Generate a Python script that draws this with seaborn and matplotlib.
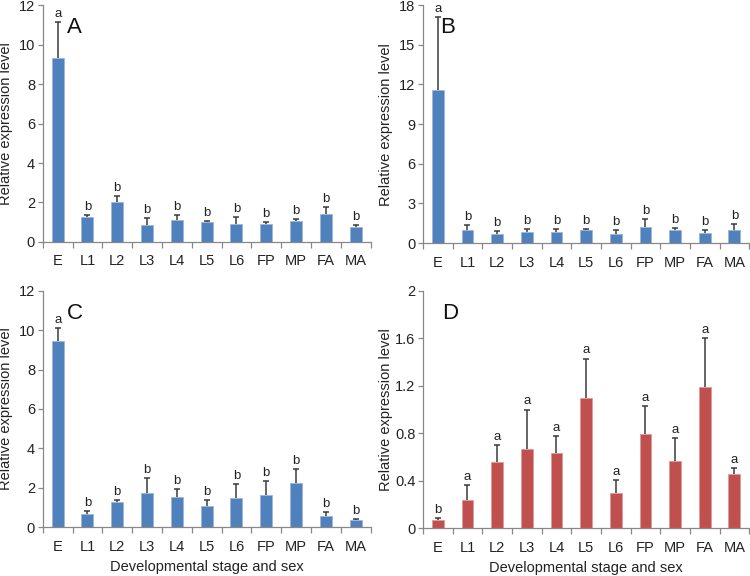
import pandas as pd
import seaborn as sns
import matplotlib.pyplot as plt
from matplotlib.ticker import MultipleLocator, FixedLocator

stages = ['E', 'L1', 'L2', 'L3', 'L4', 'L5', 'L6', 'FP', 'MP', 'FA', 'MA']

# mean values and top of error bar
a_mean = [9.3, 1.25, 2.02, 0.86, 1.12, 1.0, 0.9, 0.92, 1.05, 1.4, 0.78]
a_top = [11.16, 1.37, 2.34, 1.2, 1.37, 1.08, 1.27, 0.99, 1.16, 1.76, 0.84]
a_sig = ['a', 'b', 'b', 'b', 'b', 'b', 'b', 'b', 'b', 'b', 'b']

b_mean = [11.6, 1.01, 0.66, 0.81, 0.86, 0.96, 0.71, 1.22, 0.96, 0.78, 0.96]
b_top = [17.1, 1.37, 0.89, 1.06, 1.06, 1.04, 1.01, 1.8, 1.11, 0.96, 1.44]
b_sig = ['a', 'b', 'b', 'b', 'b', 'b', 'b', 'b', 'b', 'b', 'b']

c_mean = [9.44, 0.64, 1.25, 1.73, 1.53, 1.05, 1.47, 1.64, 2.24, 0.58, 0.34]
c_top = [10.1, 0.83, 1.37, 2.47, 1.93, 1.39, 2.17, 2.32, 2.95, 0.76, 0.41]
c_sig = ['a', 'b', 'b', 'b', 'b', 'b', 'b', 'b', 'b', 'b', 'b']

d_mean = [0.07, 0.24, 0.56, 0.67, 0.63, 1.1, 0.3, 0.79, 0.57, 1.19, 0.46]
d_top = [0.085, 0.36, 0.7, 1.0, 0.78, 1.43, 0.405, 1.03, 0.76, 1.6, 0.51]
d_sig = ['b', 'a', 'a', 'a', 'a', 'a', 'a', 'a', 'a', 'a', 'a']

blue = '#4F81BD'
red = '#C0504D'

sns.set_style('ticks')
plt.rcParams['font.family'] = ['Liberation Sans', 'DejaVu Sans']

fig = plt.figure(figsize=(7.5, 5.76), dpi=100)

panels = [
    ('A', a_mean, a_top, a_sig, blue, 12, 2, [0.057, 0.580, 0.437, 0.411], False),
    ('B', b_mean, b_top, b_sig, blue, 18, 3, [0.564, 0.578, 0.435, 0.413], False),
    ('C', c_mean, c_top, c_sig, blue, 12, 2, [0.057, 0.085, 0.437, 0.410], True),
    ('D', d_mean, d_top, d_sig, red, 2, 0.4, [0.564, 0.083, 0.435, 0.412], True),
]

for letter, mean, top, sig, col, ymax, step, pos, show_xlabel in panels:
    ax = fig.add_axes(pos)
    df = pd.DataFrame({'stage': stages, 'value': mean, 'top': top})
    sns.barplot(data=df, x='stage', y='value', color=col, width=0.4,
                saturation=1, ax=ax, edgecolor='#9DB5D9' if col == blue else '#E09A98',
                linewidth=0.6)
    # upper error bars only (line from bar top + cap)
    xs = range(len(stages))
    ax.vlines(xs, df['value'], df['top'], color='#3a3a3a', linewidth=1.1, zorder=3)
    ax.scatter(xs, df['top'], marker='_', s=22, color='#3a3a3a', linewidths=1.1, zorder=3)
    for i, (t, s) in enumerate(zip(df['top'], sig)):
        ax.annotate(s, (i, t), xytext=(0, 1.5), textcoords='offset points',
                    ha='center', va='bottom', fontsize=9.5, color='#222222')

    ax.set_xlim(-0.5, len(stages) - 0.5)
    ax.set_ylim(0, ymax)
    ax.yaxis.set_major_locator(MultipleLocator(step))
    if step < 1:
        ax.set_yticklabels([('0' if v == 0 else f'{v:g}') for v in ax.get_yticks()])
    ax.xaxis.set_minor_locator(FixedLocator([i - 0.5 for i in range(len(stages) + 1)]))
    ax.tick_params(axis='x', which='major', length=0, pad=9, labelsize=10.5, colors='#222222')
    ax.tick_params(axis='x', which='minor', length=4, width=0.9, color='#888888')
    ax.tick_params(axis='y', length=3.5, width=0.9, color='#888888', pad=2,
                   labelsize=10.5, labelcolor='#222222')
    for side in ['top', 'right']:
        ax.spines[side].set_visible(False)
    for side in ['left', 'bottom']:
        ax.spines[side].set_color('#888888')
        ax.spines[side].set_linewidth(0.9)

    ax.set_ylabel('Relative expression level', fontsize=10.5, color='#222222')
    ax.yaxis.set_label_coords(-0.092, 0.5)
    if show_xlabel:
        ax.set_xlabel('Developmental stage and sex', fontsize=10.5, color='#222222')
        ax.xaxis.set_label_coords(0.5, -0.14)
    else:
        ax.set_xlabel('')

    lx = 0.052 if letter == 'B' else (0.058 if letter == 'D' else 0.073)
    ax.text(lx, 0.905, letter, transform=ax.transAxes, ha='left', va='center',
            fontsize=16, color='#111111')

fig.savefig('out.png', dpi=100)
